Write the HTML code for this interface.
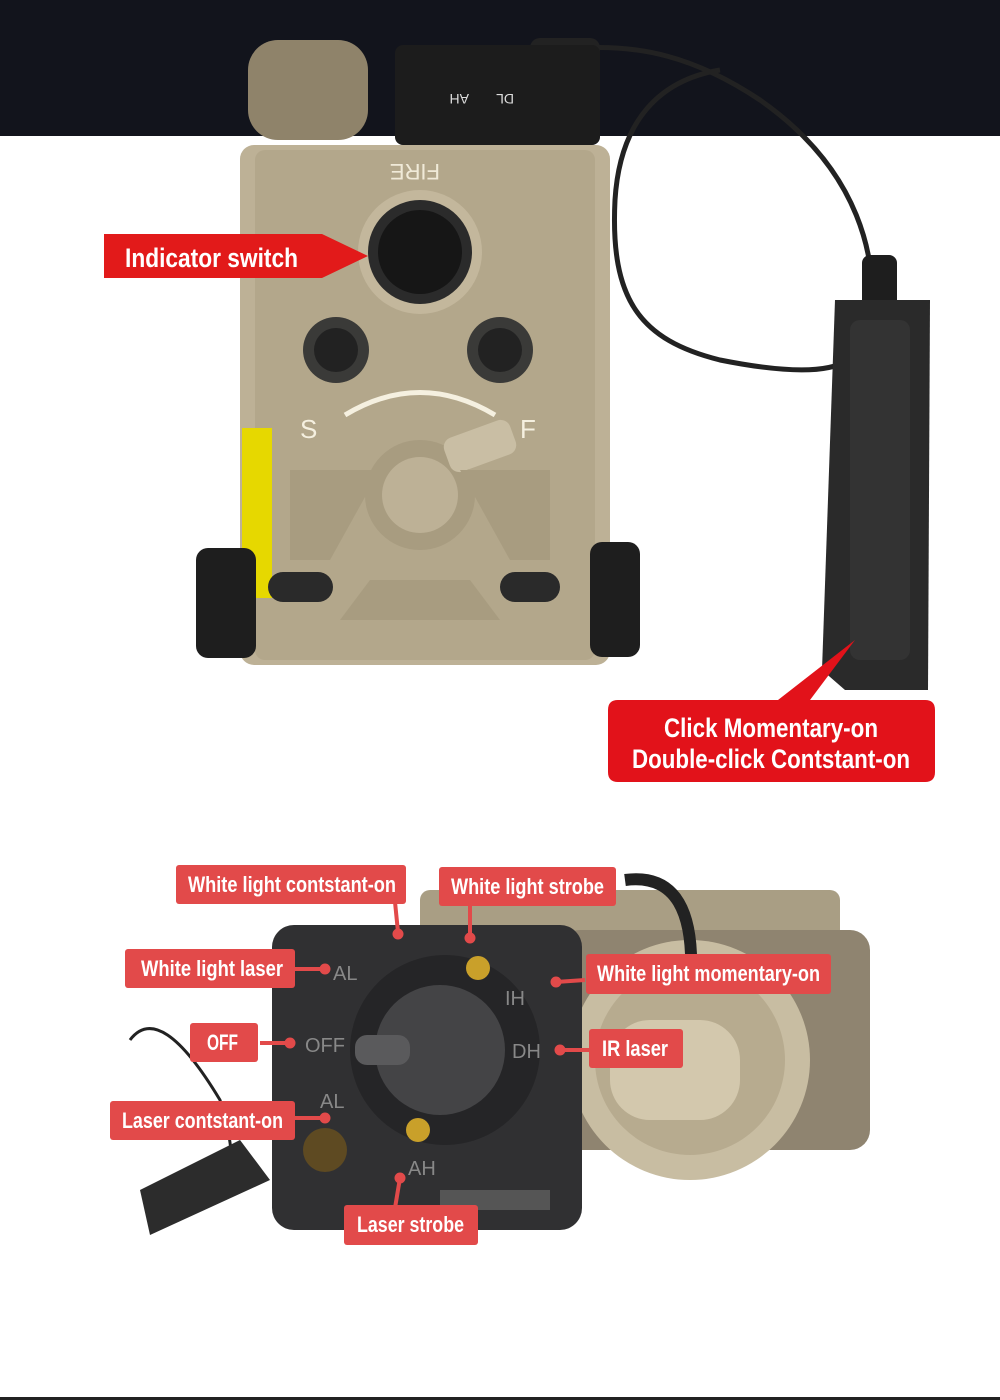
<!DOCTYPE html>
<html><head><meta charset="utf-8"><style>
body{margin:0;width:1000px;height:1400px;overflow:hidden;background:#fff;font-family:"Liberation Sans",sans-serif}
svg{display:block}
.l{font-family:"Liberation Sans",sans-serif;font-weight:bold;fill:#fff}
</style></head><body>
<svg width="1000" height="1400" viewBox="0 0 1000 1400">
<rect x="0" y="0" width="1000" height="136" fill="#12141c"/>
<rect x="0" y="1397" width="1000" height="3" fill="#222"/>
<!-- cable -->
<path d="M560 50 C640 40 700 60 760 100 C860 170 880 260 870 330 C860 370 820 380 720 360 C640 340 610 300 615 200 C620 120 660 80 720 70" fill="none" stroke="#222" stroke-width="5"/>
<rect x="530" y="38" width="70" height="30" rx="10" fill="#222"/>
<rect x="862" y="255" width="35" height="55" rx="8" fill="#1e1e1e"/>
<path d="M835 300 L930 300 L928 690 L845 690 L822 670 Z" fill="#2a2a2a"/>
<rect x="850" y="320" width="60" height="340" rx="10" fill="#333"/>
<!-- top device -->
<rect x="248" y="40" width="120" height="100" rx="30" fill="#8f836a"/>
<rect x="395" y="45" width="205" height="100" rx="8" fill="#1c1c1c"/>
<text x="455" y="104" font-size="14" fill="#ddd" transform="rotate(180 462 99)">AH</text>
<text x="500" y="104" font-size="14" fill="#ddd" transform="rotate(180 507 99)">DL</text>
<rect x="240" y="145" width="370" height="520" rx="14" fill="#bdb196"/>
<rect x="255" y="150" width="340" height="510" rx="10" fill="#b3a78b"/>
<text x="396" y="180" font-size="22" fill="#f0ead8" transform="rotate(180 418 172)">FIRE</text>
<circle cx="420" cy="252" r="62" fill="#c3b79c"/>
<circle cx="420" cy="252" r="52" fill="#2b2b2b"/>
<circle cx="420" cy="252" r="42" fill="#161616"/>
<circle cx="336" cy="350" r="33" fill="#3a3a38"/><circle cx="336" cy="350" r="22" fill="#222"/>
<circle cx="500" cy="350" r="33" fill="#3a3a38"/><circle cx="500" cy="350" r="22" fill="#222"/>
<text x="300" y="438" font-size="26" fill="#f5f0e0">S</text>
<text x="520" y="438" font-size="26" fill="#f5f0e0">F</text>
<path d="M345 415 Q420 370 495 415" fill="none" stroke="#f5f0e0" stroke-width="5"/>
<circle cx="420" cy="495" r="55" fill="#a89c80"/><circle cx="420" cy="495" r="38" fill="#bdb196"/>
<rect x="445" y="428" width="70" height="36" rx="10" fill="#c9bea4" transform="rotate(-20 480 446)"/>
<path d="M290 470 L380 470 L330 560 L290 560 Z" fill="#a89c80"/>
<path d="M460 470 L550 470 L550 560 L510 560 Z" fill="#a89c80"/>
<path d="M370 580 L470 580 L500 620 L340 620 Z" fill="#a89c80"/>
<rect x="242" y="428" width="30" height="170" fill="#e6d800"/>
<rect x="196" y="548" width="60" height="110" rx="12" fill="#1e1e1e"/>
<rect x="590" y="542" width="50" height="115" rx="12" fill="#1e1e1e"/>
<rect x="268" y="572" width="65" height="30" rx="15" fill="#2a2a2a"/>
<rect x="500" y="572" width="60" height="30" rx="15" fill="#2a2a2a"/>
<!-- top labels -->
<path d="M104 234 L322 234 L368 256 L322 278 L104 278 Z" fill="#e21a1a"/>
<text class="l" x="125" y="267" font-size="27" textLength="173" lengthAdjust="spacingAndGlyphs">Indicator switch</text>
<path d="M618 700 L778 700 L855 640 L810 700 L925 700 Q935 700 935 710 L935 772 Q935 782 925 782 L618 782 Q608 782 608 772 L608 710 Q608 700 618 700 Z" fill="#e2121a"/>
<text class="l" x="664" y="737" font-size="27" textLength="214" lengthAdjust="spacingAndGlyphs">Click Momentary-on</text>
<text class="l" x="632" y="768" font-size="27" textLength="278" lengthAdjust="spacingAndGlyphs">Double-click Contstant-on</text>
<!-- bottom device -->
<path d="M130 1040 Q160 1000 220 1100 Q250 1200 200 1180" fill="none" stroke="#222" stroke-width="3"/>
<path d="M140 1190 L240 1140 L270 1180 L150 1235 Z" fill="#2c2c2c"/>
<rect x="420" y="890" width="420" height="70" rx="10" fill="#a99e84"/>
<rect x="560" y="930" width="310" height="220" rx="20" fill="#8f8470"/>
<circle cx="690" cy="1060" r="120" fill="#c8bda2"/>
<circle cx="690" cy="1060" r="95" fill="#b7ab8f"/>
<rect x="610" y="1020" width="130" height="100" rx="40" fill="#d3c8ad"/>
<path d="M625 880 Q700 870 690 990" fill="none" stroke="#222" stroke-width="12"/>
<rect x="272" y="925" width="310" height="305" rx="22" fill="#303032"/>
<circle cx="445" cy="1050" r="95" fill="#252527"/>
<circle cx="440" cy="1050" r="65" fill="#444446"/>
<rect x="355" y="1035" width="55" height="30" rx="12" fill="#5a5a5c"/>
<circle cx="478" cy="968" r="12" fill="#c9a02a"/>
<circle cx="418" cy="1130" r="12" fill="#c9a02a"/>
<circle cx="325" cy="1150" r="22" fill="#5e4a22"/>
<text x="333" y="980" font-size="20" fill="#888">AL</text>
<text x="305" y="1052" font-size="20" fill="#888">OFF</text>
<text x="320" y="1108" font-size="20" fill="#888">AL</text>
<text x="408" y="1175" font-size="20" fill="#888">AH</text>
<text x="505" y="1005" font-size="20" fill="#888">IH</text>
<text x="512" y="1058" font-size="20" fill="#888">DH</text>
<rect x="440" y="1190" width="110" height="20" fill="#555"/>
<g fill="#e24a4a" stroke="#e24a4a">
<line x1="395" y1="902" x2="398" y2="932" stroke-width="4"/><circle cx="398" cy="934" r="5"/>
<line x1="470" y1="902" x2="470" y2="938" stroke-width="4"/><circle cx="470" cy="938" r="5"/>
<line x1="295" y1="969" x2="325" y2="969" stroke-width="4"/><circle cx="325" cy="969" r="5"/>
<line x1="260" y1="1043" x2="290" y2="1043" stroke-width="4"/><circle cx="290" cy="1043" r="5"/>
<line x1="295" y1="1118" x2="325" y2="1118" stroke-width="4"/><circle cx="325" cy="1118" r="5"/>
<line x1="400" y1="1178" x2="395" y2="1208" stroke-width="4"/><circle cx="400" cy="1178" r="5"/>
<line x1="585" y1="980" x2="556" y2="982" stroke-width="4"/><circle cx="556" cy="982" r="5"/>
<line x1="590" y1="1050" x2="560" y2="1050" stroke-width="4"/><circle cx="560" cy="1050" r="5"/>
</g>
<g fill="#e24a4a">
<rect x="176" y="865" width="230" height="39" rx="3"/>
<rect x="439" y="867" width="177" height="39" rx="3"/>
<rect x="125" y="949" width="170" height="39" rx="3"/>
<rect x="190" y="1023" width="68" height="39" rx="3"/>
<rect x="110" y="1101" width="185" height="39" rx="3"/>
<rect x="344" y="1205" width="134" height="40" rx="3"/>
<rect x="586" y="954" width="245" height="40" rx="3"/>
<rect x="589" y="1029" width="94" height="39" rx="3"/>
</g>
<g class="l" font-size="22">
<text x="188" y="892" textLength="208" lengthAdjust="spacingAndGlyphs">White light contstant-on</text>
<text x="451" y="894" textLength="153" lengthAdjust="spacingAndGlyphs">White light strobe</text>
<text x="141" y="976" textLength="142" lengthAdjust="spacingAndGlyphs">White light laser</text>
<text x="207" y="1050" textLength="31" lengthAdjust="spacingAndGlyphs">OFF</text>
<text x="122" y="1128" textLength="161" lengthAdjust="spacingAndGlyphs">Laser contstant-on</text>
<text x="357" y="1232" textLength="107" lengthAdjust="spacingAndGlyphs">Laser strobe</text>
<text x="597" y="981" textLength="223" lengthAdjust="spacingAndGlyphs">White light momentary-on</text>
<text x="602" y="1056" textLength="66" lengthAdjust="spacingAndGlyphs">IR laser</text>
</g>
</svg>
</body></html>
